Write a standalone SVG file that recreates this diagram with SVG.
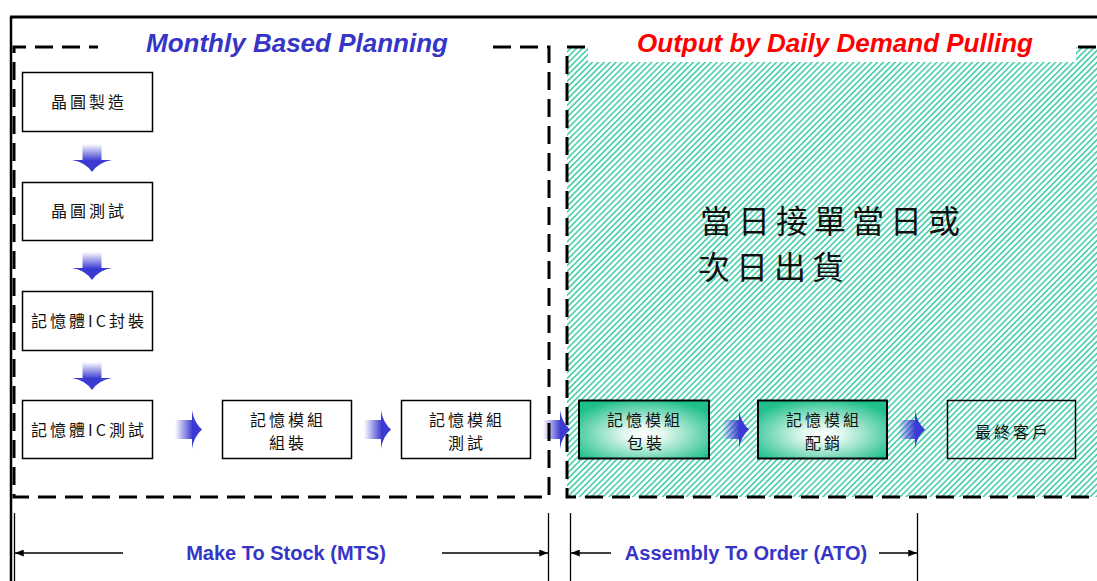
<svg xmlns="http://www.w3.org/2000/svg" width="1097" height="581" viewBox="0 0 1097 581">
<defs>
<style>
.box{fill:#fff;stroke:#000;stroke-width:1.5}
.gbox{fill:url(#green);stroke:#000;stroke-width:2}
.cjk{font-family:"Noto Sans CJK TC","Noto Sans CJK SC",sans-serif;font-size:16px;fill:#111;letter-spacing:3px;text-anchor:middle}
.big{font-family:"Noto Sans CJK TC","Noto Sans CJK SC",sans-serif;font-size:32px;fill:#111;letter-spacing:6px}
.title{font-family:"Liberation Sans",Arial,sans-serif;font-size:26px;font-weight:bold;font-style:italic;text-anchor:middle}
.dimt{font-family:"Liberation Sans",Arial,sans-serif;font-size:20px;font-weight:bold;fill:#3535c8;text-anchor:middle}
.dash{fill:none;stroke:#000;stroke-width:3;stroke-dasharray:18 9}
.dim{fill:none;stroke:#000;stroke-width:1.3}
</style>
<pattern id="hatch" patternUnits="userSpaceOnUse" width="4.2" height="8" patternTransform="rotate(45)">
<rect width="4.2" height="8" fill="#fff"/>
<rect x="0" y="0" width="1.6" height="8" fill="#46cfab"/>
</pattern>
<radialGradient id="green" cx="50%" cy="58%" r="62%">
<stop offset="0" stop-color="#ffffff"/>
<stop offset="0.25" stop-color="#e2f8ee"/>
<stop offset="1" stop-color="#1fbf8c"/>
</radialGradient>
<linearGradient id="shaftV" x1="0" y1="0" x2="0" y2="1">
<stop offset="0" stop-color="#3838d0" stop-opacity="0"/>
<stop offset="1" stop-color="#3838d0"/>
</linearGradient>
<linearGradient id="shaftH" x1="0" y1="0" x2="1" y2="0">
<stop offset="0" stop-color="#3838d0" stop-opacity="0"/>
<stop offset="1" stop-color="#3838d0"/>
</linearGradient>
<marker id="ah" viewBox="0 0 10 8" refX="10" refY="4" markerWidth="9" markerHeight="7" orient="auto-start-reverse" markerUnits="userSpaceOnUse">
<path d="M0 0 L10 4 L0 8 z" fill="#000"/>
</marker>
<g id="harrow">
<rect x="0" y="-9.5" width="18" height="19" fill="url(#shaftH)"/>
<path d="M17 -19 Q19 -7 27 0 Q19 7 17 19 Z" fill="#3b3bd3"/>
</g>
<g id="varrow">
<rect x="-9.5" y="0" width="19" height="17" fill="url(#shaftV)"/>
<path d="M-20 16 Q-7 18 0 28 Q7 18 20 16 Z" fill="#3b3bd3"/>
</g>
</defs>

<rect width="1097" height="581" fill="#fff"/>

<g id="zone-ato">
<rect x="567" y="47" width="530" height="450" fill="url(#hatch)"/>
<rect x="588" y="47" width="488" height="15" fill="#fff"/>
<text class="title" x="835" y="52" fill="#ff0000">Output by Daily Demand Pulling</text>
<path class="dash" d="M585 47 H567 V497 H1097"/>
<path class="dash" d="M1078 47 H1097" stroke-dasharray="2 7 18 9"/>
</g>

<g id="frame">
<path d="M10 17 H1097" stroke="#000" stroke-width="3" fill="none"/>
<path d="M11 17 V581" stroke="#000" stroke-width="2.5" fill="none"/>
</g>

<g id="zone-mts">
<text class="title" x="297" y="52" fill="#3535c8">Monthly Based Planning</text>
</g>

<g id="note">
<text class="big" x="700" y="233">當日接單當日或</text>
<text class="big" x="698" y="279">次日出貨</text>
</g>

<g id="connectors">
<use href="#varrow" transform="translate(92 144)"/>
<use href="#varrow" transform="translate(92 252)"/>
<use href="#varrow" transform="translate(92 362)"/>
<use href="#harrow" transform="translate(175 429.5)"/>
<use href="#harrow" transform="translate(364 429.5)"/>
<use href="#harrow" transform="translate(543 429.5)"/>
<use href="#harrow" transform="translate(722 429.5)"/>
<use href="#harrow" transform="translate(898 429.5)"/>
</g>

<g id="zone-mts-border">
<path class="dash" d="M493 47 H549 V497 H14 V47 H98"/>
</g>

<g id="n1"><rect class="box" x="22.5" y="72.5" width="130" height="59"/><text class="cjk" x="89" y="108">晶圓製造</text></g>
<g id="n2"><rect class="box" x="22.5" y="182.5" width="130" height="58"/><text class="cjk" x="89" y="217">晶圓測試</text></g>
<g id="n3"><rect class="box" x="22.5" y="291.5" width="130" height="59"/><text class="cjk" x="89" y="327">記憶體IC封裝</text></g>
<g id="n4"><rect class="box" x="22.5" y="400.5" width="130" height="58"/><text class="cjk" x="89" y="436">記憶體IC測試</text></g>
<g id="n5"><rect class="box" x="222.5" y="400.5" width="129" height="58"/><text class="cjk" x="288" y="426">記憶模組</text><text class="cjk" x="288" y="449">組裝</text></g>
<g id="n6"><rect class="box" x="401.5" y="400.5" width="129" height="58"/><text class="cjk" x="467" y="426">記憶模組</text><text class="cjk" x="467" y="449">測試</text></g>
<g id="n7"><rect class="gbox" x="579" y="400.5" width="130" height="58"/><text class="cjk" x="645" y="426">記憶模組</text><text class="cjk" x="646" y="449">包裝</text></g>
<g id="n8"><rect class="gbox" x="758" y="400.5" width="129" height="58"/><text class="cjk" x="824" y="426">記憶模組</text><text class="cjk" x="824" y="449">配銷</text></g>
<g id="n9"><rect x="947.5" y="400.5" width="128" height="58" fill="none" stroke="#000" stroke-width="1.5"/><text class="cjk" x="1013" y="438">最終客戶</text></g>

<g id="dimensions">
<path class="dim" d="M14.5 513 V581 M548.5 513 V581 M570.5 513 V581 M917.5 513 V581"/>
<path class="dim" d="M123 553 H15" marker-end="url(#ah)"/>
<path class="dim" d="M442 553 H548" marker-end="url(#ah)"/>
<path class="dim" d="M611 553 H571" marker-end="url(#ah)"/>
<path class="dim" d="M879 553 H917" marker-end="url(#ah)"/>
<text class="dimt" x="286" y="560">Make To Stock (MTS)</text>
<text class="dimt" x="746" y="560">Assembly To Order (ATO)</text>
</g>
</svg>
